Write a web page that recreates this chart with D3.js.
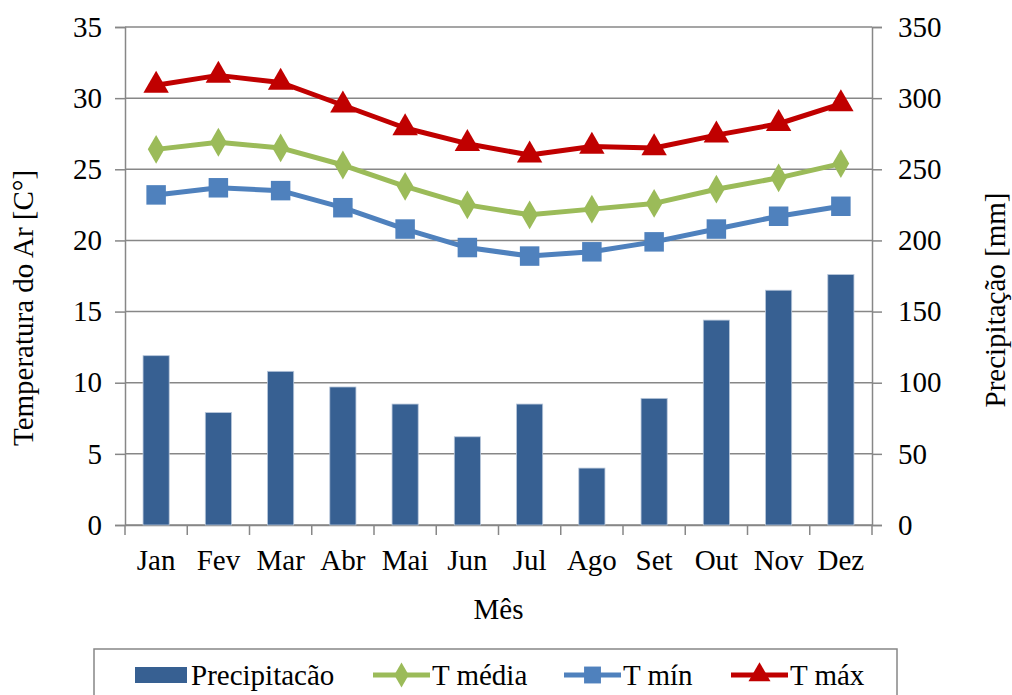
<!DOCTYPE html>
<html lang="pt">
<head>
  <meta charset="UTF-8">
  <title>Temperatura e Precipitação</title>
  <script src="https://d3js.org/d3.v7.min.js"></script>
  <style>
    body { margin: 0; background: #fff; }
    text { font-family: "Liberation Serif", "Times New Roman", serif; fill: #000; }
  </style>
</head>
<body>
<div id="chart-container"></div>
<script>
  // Monthly data
  const months = ['Jan', 'Fev', 'Mar', 'Abr', 'Mai', 'Jun', 'Jul', 'Ago', 'Set', 'Out', 'Nov', 'Dez'];
  const precip = [119, 79, 108, 97, 85, 62, 85, 40, 89, 144, 165, 176];
  const tMedia = [26.4, 26.9, 26.5, 25.3, 23.8, 22.5, 21.8, 22.2, 22.6, 23.6, 24.4, 25.4];
  const tMin = [23.2, 23.7, 23.5, 22.3, 20.8, 19.5, 18.9, 19.2, 19.9, 20.8, 21.7, 22.4];
  const tMax = [30.9, 31.6, 31.1, 29.5, 27.9, 26.8, 26.0, 26.6, 26.5, 27.4, 28.2, 29.6];
  const tempTicks = [0, 5, 10, 15, 20, 25, 30, 35];
  const precipTicks = [0, 50, 100, 150, 200, 250, 300, 350];

  const W = 1012, H = 695;
  const margin = { top: 27, right: 140, bottom: 170, left: 125 };
  const width = W - margin.left - margin.right;
  const height = H - margin.top - margin.bottom;
  const gridColor = '#878787';
  const fontSize = 29;

  const svg = d3.select('#chart-container')
    .append('svg')
    .attr('width', W)
    .attr('height', H);

  const g = svg.append('g')
    .attr('transform', `translate(${margin.left},${margin.top})`);

  // Scales
  const x = d3.scaleBand().domain(months).range([0, width]);
  const yT = d3.scaleLinear().domain([0, 35]).range([height, 0]);
  const yP = d3.scaleLinear().domain([0, 350]).range([height, 0]);

  // Gridlines
  g.append('g')
    .selectAll('line')
    .data(tempTicks)
    .enter().append('line')
    .attr('x1', 0)
    .attr('x2', width)
    .attr('y1', d => yT(d))
    .attr('y2', d => yT(d))
    .attr('stroke', gridColor)
    .attr('stroke-width', 1.5);

  // Left axis
  const yAxisL = g.append('g')
    .call(d3.axisLeft(yT).tickValues(tempTicks).tickSize(10).tickPadding(13));
  // Right axis
  const yAxisR = g.append('g')
    .attr('transform', `translate(${width},0)`)
    .call(d3.axisRight(yP).tickValues(precipTicks).tickSize(10).tickPadding(16));
  // Bottom axis, ticks at category boundaries
  const xAxis = g.append('g')
    .attr('transform', `translate(0,${height})`)
    .call(d3.axisBottom(x).tickSize(0).tickPadding(24));
  xAxis.selectAll('.boundary')
    .data(d3.range(months.length + 1))
    .enter().append('line')
    .attr('class', 'boundary')
    .attr('x1', i => i * x.step())
    .attr('x2', i => i * x.step())
    .attr('y1', 0)
    .attr('y2', 10)
    .attr('stroke', gridColor)
    .attr('stroke-width', 1.5);

  [yAxisL, yAxisR, xAxis].forEach(a => {
    a.attr('font-family', '"Liberation Serif", serif');
    a.select('.domain').attr('stroke', gridColor).attr('stroke-width', 1.5);
    a.selectAll('.tick line').attr('stroke', gridColor).attr('stroke-width', 1.5);
    a.selectAll('.tick text')
      .attr('font-size', fontSize)
      .attr('font-family', '"Liberation Serif", serif');
  });

  // Precipitation bars
  const barW = x.bandwidth() * 0.42;
  g.append('g')
    .selectAll('rect')
    .data(precip)
    .enter().append('rect')
    .attr('x', (d, i) => x(months[i]) + (x.bandwidth() - barW) / 2)
    .attr('y', d => yP(d))
    .attr('width', barW)
    .attr('height', d => height - yP(d))
    .attr('fill', '#376092')
    .attr('stroke', '#b7c6da')
    .attr('stroke-width', 0.8);

  // Temperature lines
  const series = [
    { name: 'T média', values: tMedia, color: '#9BBB59', marker: d3.symbolDiamond, size: 240 },
    { name: 'T mín', values: tMin, color: '#4F81BD', marker: d3.symbolSquare, size: 380 },
    { name: 'T máx', values: tMax, color: '#C00000', marker: d3.symbolTriangle, size: 280 }
  ];

  const line = d3.line()
    .x((d, i) => x(months[i]) + x.bandwidth() / 2)
    .y(d => yT(d));

  series.forEach(s => {
    g.append('path')
      .datum(s.values)
      .attr('fill', 'none')
      .attr('stroke', s.color)
      .attr('stroke-width', 5)
      .attr('stroke-linejoin', 'round')
      .attr('d', line);

    g.append('g')
      .selectAll('path')
      .data(s.values)
      .enter().append('path')
      .attr('transform', (d, i) => `translate(${x(months[i]) + x.bandwidth() / 2},${yT(d)})`)
      .attr('d', d3.symbol().type(s.marker).size(s.size))
      .attr('fill', s.color);
  });

  // Axis titles
  svg.append('text')
    .attr('transform', `translate(33,308) rotate(-90)`)
    .attr('text-anchor', 'middle')
    .attr('font-size', fontSize)
    .text('Temperatura do Ar [C°]');

  svg.append('text')
    .attr('transform', `translate(1005,300) rotate(-90)`)
    .attr('text-anchor', 'middle')
    .attr('font-size', fontSize)
    .text('Precipitação [mm]');

  svg.append('text')
    .attr('x', margin.left + width / 2)
    .attr('y', 619)
    .attr('text-anchor', 'middle')
    .attr('font-size', fontSize)
    .text('Mês');

  // Legend
  const legend = svg.append('g');
  legend.append('rect')
    .attr('x', 94)
    .attr('y', 649)
    .attr('width', 803)
    .attr('height', 60)
    .attr('fill', '#fff')
    .attr('stroke', gridColor)
    .attr('stroke-width', 1.5);

  const legY = 675;
  legend.append('rect')
    .attr('x', 135)
    .attr('y', legY - 8)
    .attr('width', 52)
    .attr('height', 16)
    .attr('fill', '#376092');
  legend.append('text')
    .attr('x', 191)
    .attr('y', legY + 10)
    .attr('font-size', fontSize)
    .text('Precipitacão');

  const legX = [373, 564, 731];
  series.forEach((s, i) => {
    legend.append('line')
      .attr('x1', legX[i])
      .attr('x2', legX[i] + 57)
      .attr('y1', legY)
      .attr('y2', legY)
      .attr('stroke', s.color)
      .attr('stroke-width', 5);
    legend.append('path')
      .attr('transform', `translate(${legX[i] + 28.5},${legY})`)
      .attr('d', d3.symbol().type(s.marker).size(s.size * 0.75))
      .attr('fill', s.color);
    legend.append('text')
      .attr('x', legX[i] + 59)
      .attr('y', legY + 10)
      .attr('font-size', fontSize)
      .text(s.name);
  });
</script>
</body>
</html>
